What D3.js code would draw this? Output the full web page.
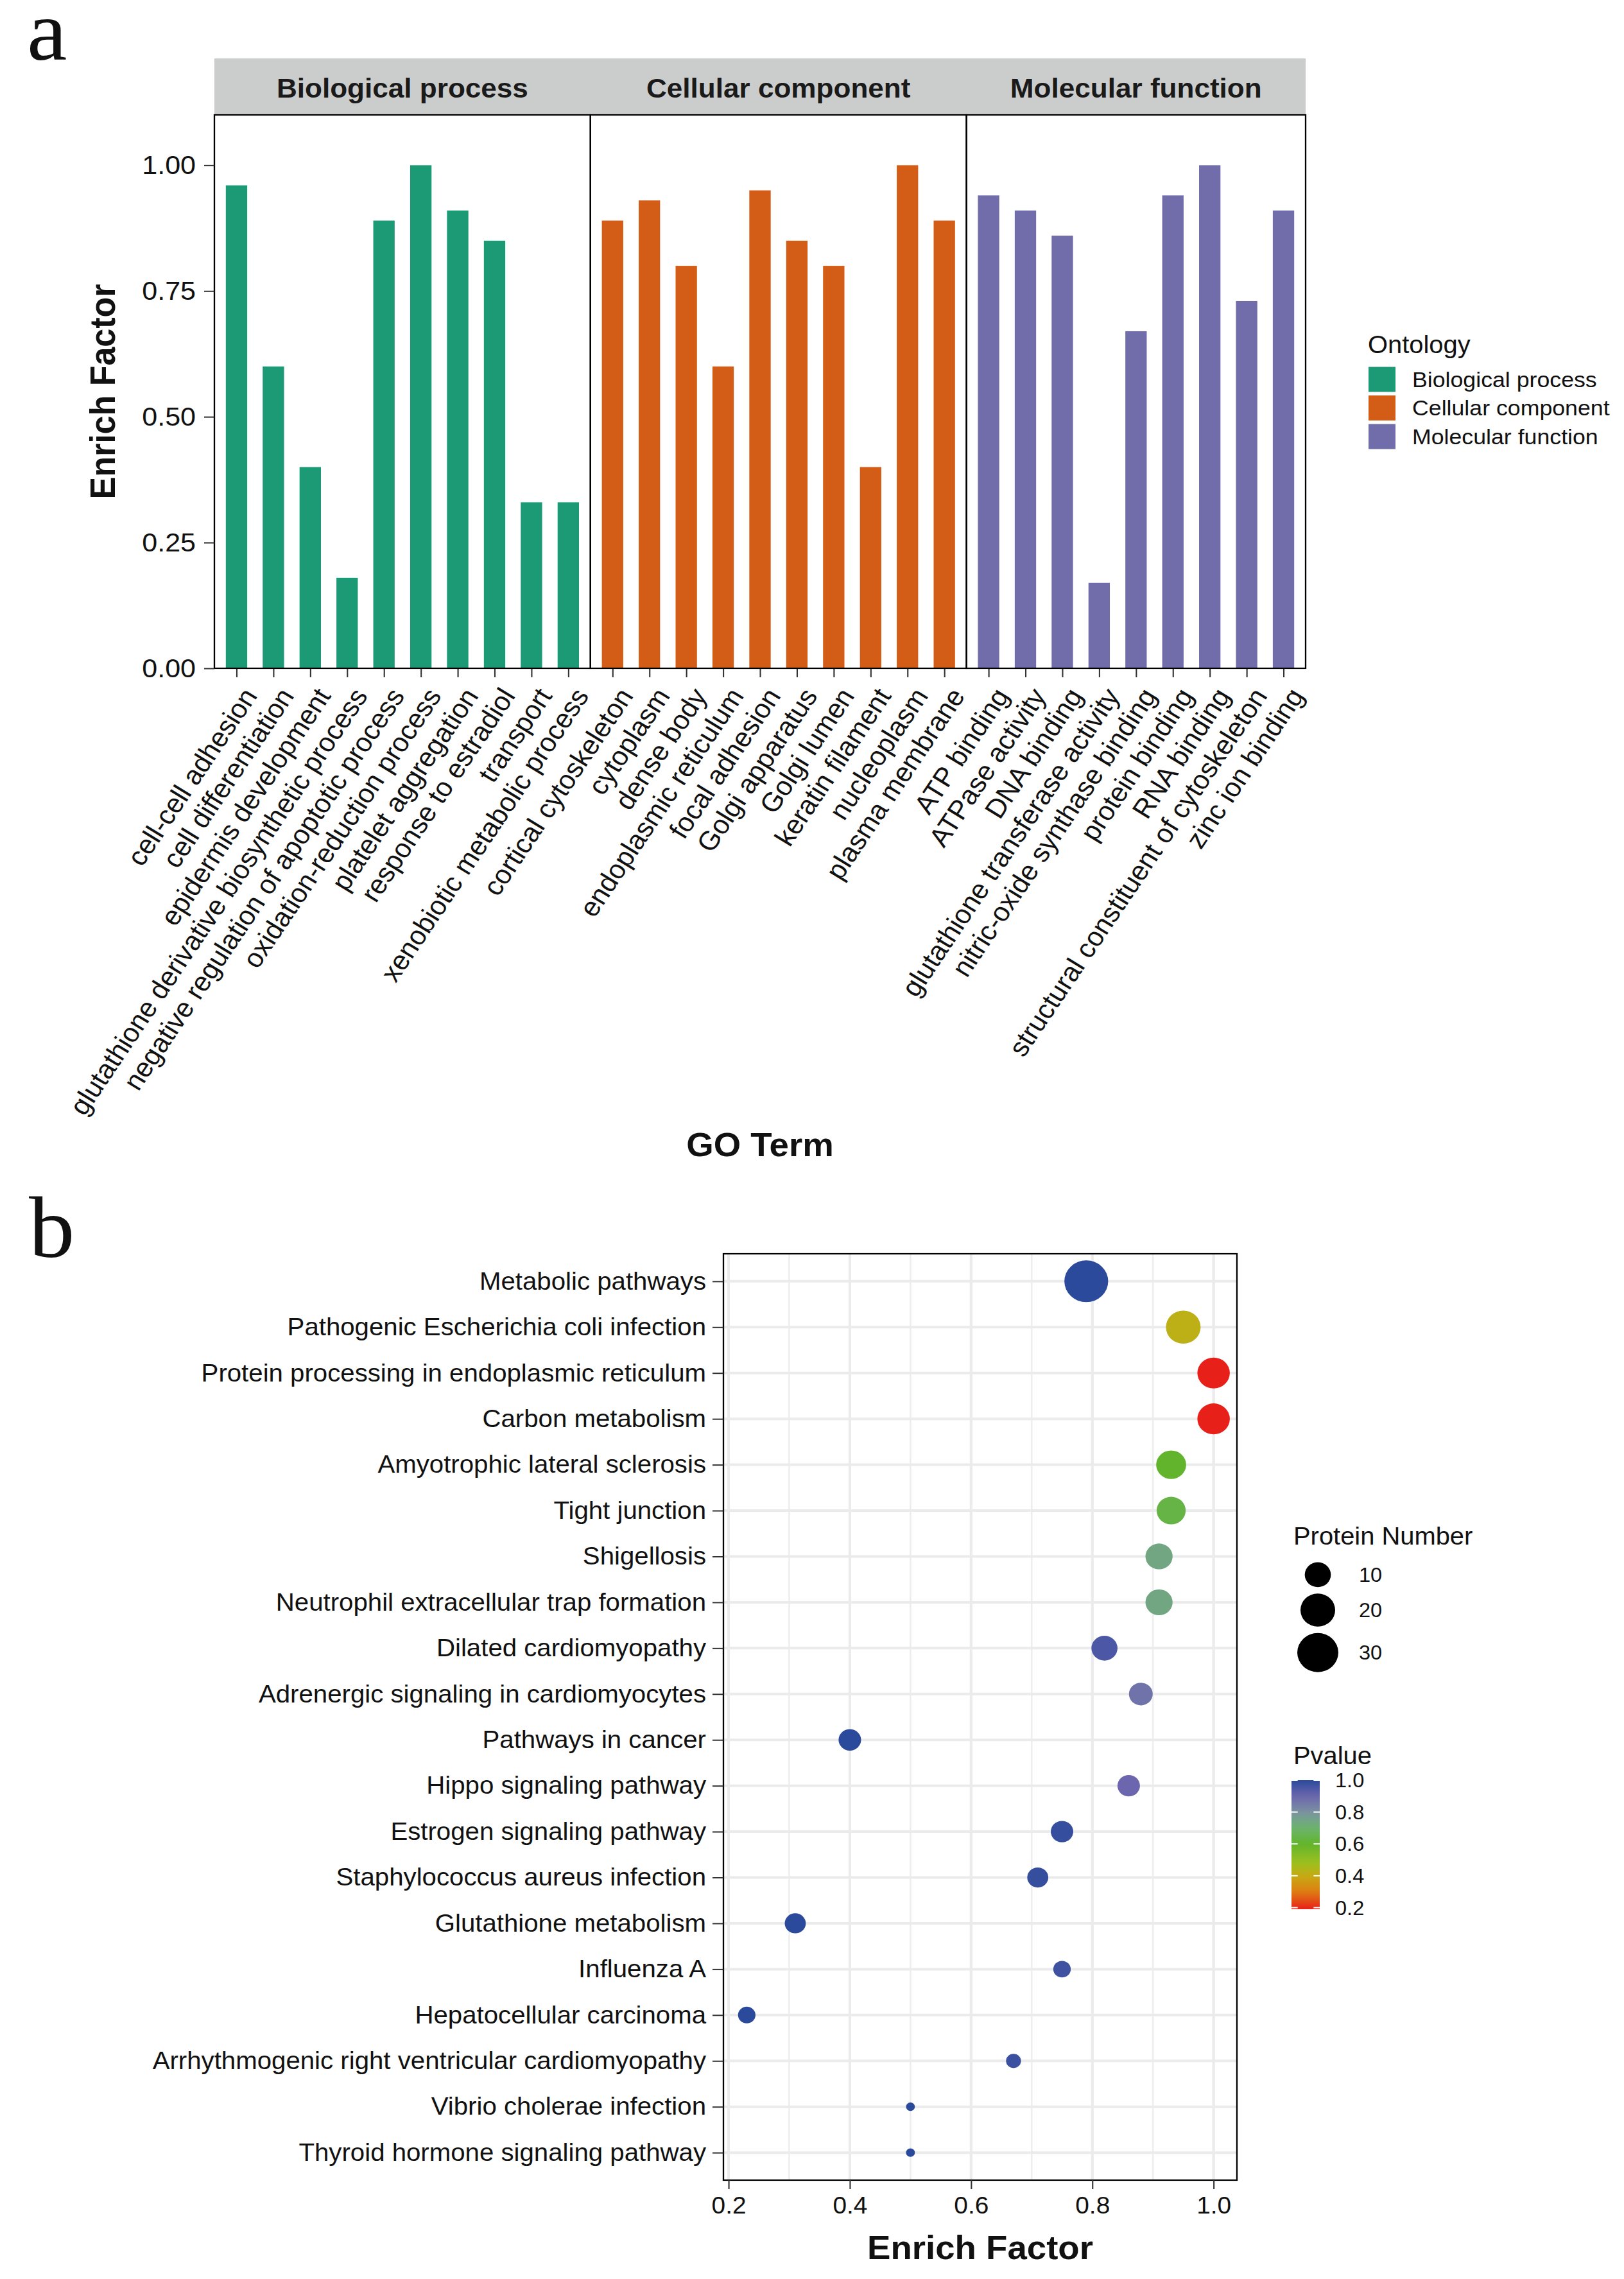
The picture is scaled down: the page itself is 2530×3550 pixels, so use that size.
<!DOCTYPE html>
<html>
<head>
<meta charset="utf-8">
<script src="https://cdn.jsdelivr.net/npm/d3@7"></script>
<style>
  body { margin: 0; background: #fff; }
</style>
</head>
<body>
<svg id="fig"></svg>
<script>
// ---- data: panel a (GO enrichment) ----
const ontologies = ['Biological process', 'Cellular component', 'Molecular function'];

const bpTerms = ['cell-cell adhesion', 'cell differentiation', 'epidermis development',
  'glutathione derivative biosynthetic process', 'negative regulation of apoptotic process',
  'oxidation-reduction process', 'platelet aggregation', 'response to estradiol',
  'transport', 'xenobiotic metabolic process'];
const bpFactor = [0.96, 0.60, 0.40, 0.18, 0.89, 1.00, 0.91, 0.85, 0.33, 0.33];

const ccTerms = ['cortical cytoskeleton', 'cytoplasm', 'dense body', 'endoplasmic reticulum',
  'focal adhesion', 'Golgi apparatus', 'Golgi lumen', 'keratin filament', 'nucleoplasm',
  'plasma membrane'];
const ccFactor = [0.89, 0.93, 0.80, 0.60, 0.95, 0.85, 0.80, 0.40, 1.00, 0.89];

const mfTerms = ['ATP binding', 'ATPase activity', 'DNA binding',
  'glutathione transferase activity', 'nitric-oxide synthase binding', 'protein binding',
  'RNA binding', 'structural constituent of cytoskeleton', 'zinc ion binding'];
const mfFactor = [0.94, 0.91, 0.86, 0.17, 0.67, 0.94, 1.00, 0.73, 0.91];

const yTicksA = [0, 0.25, 0.5, 0.75, 1.0];

// ---- data: panel b (KEGG bubble plot) ----
const keggPathways = ['Metabolic pathways', 'Pathogenic Escherichia coli infection',
  'Protein processing in endoplasmic reticulum', 'Carbon metabolism',
  'Amyotrophic lateral sclerosis', 'Tight junction', 'Shigellosis',
  'Neutrophil extracellular trap formation', 'Dilated cardiomyopathy',
  'Adrenergic signaling in cardiomyocytes', 'Pathways in cancer', 'Hippo signaling pathway',
  'Estrogen signaling pathway', 'Staphylococcus aureus infection', 'Glutathione metabolism',
  'Influenza A', 'Hepatocellular carcinoma', 'Arrhythmogenic right ventricular cardiomyopathy',
  'Vibrio cholerae infection', 'Thyroid hormone signaling pathway'];
const keggFactor = [0.79, 0.95, 1.00, 1.00, 0.93, 0.93, 0.91, 0.91, 0.82, 0.88,
  0.40, 0.86, 0.75, 0.71, 0.31, 0.75, 0.23, 0.67, 0.50, 0.50];
const keggCount = [35, 20, 17, 17, 14, 13, 11, 11, 10, 8, 7, 7, 7, 6, 6, 4, 4, 3, 2, 2];
const keggPvalue = [1.00, 0.42, 0.19, 0.19, 0.60, 0.64, 0.74, 0.74, 0.95, 0.87,
  1.00, 0.90, 0.985, 0.985, 1.00, 0.97, 1.00, 0.975, 1.00, 1.00];

const xTicksB = [0.2, 0.4, 0.6, 0.8, 1.0];
const sizeBreaks = [10, 20, 30];
const pBreaks = [0.2, 0.4, 0.6, 0.8, 1.0];

// ---- styles ----
const ontColors = ['#1C9A76', '#D35C17', '#716DAA'];
const pStops = [0.19, 0.30, 0.40, 0.48, 0.60, 0.70, 0.80, 0.90, 1.00];
const pColors = ['#E8201A', '#DE7E12', '#C6AA14', '#9CC01E', '#62B42C', '#6CB46E',
  '#7A92A0', '#6C66AE', '#2B4A9B'];
const SANS = '"Liberation Sans", Arial, Helvetica, sans-serif';
const SERIF = '"Liberation Serif", "Times New Roman", serif';

// the reference is slightly stretched sideways; draw in narrower units and stretch
const SX = 1.05;
const W = 2530, H = 3550;
const X = v => v / SX;   // measured pixel x -> drawing units

const svg = d3.select('#fig')
  .attr('width', W).attr('height', H)
  .attr('viewBox', [0, 0, W / SX, H])
  .attr('preserveAspectRatio', 'none')
  .attr('font-family', SANS);

function styleAxis(g, size) {
  g.select('.domain').remove();
  g.selectAll('.tick line').attr('stroke', '#333').attr('stroke-width', 2);
  g.selectAll('.tick text').attr('fill', '#111').attr('font-size', size)
    .attr('font-family', SANS);
}

// ================= panel a =================
const aTop = 179, aBot = 1041, stripTop = 91;
const aLeft = X(334), aRight = X(2034);
const gA = svg.append('g');

gA.append('text').attr('x', X(42)).attr('y', 93)
  .attr('font-family', SERIF).attr('font-size', 134).attr('fill', '#111').text('a');

const yA = d3.scaleLinear().domain([0, 1.1]).range([aBot, aTop]);

const facets = [
  { terms: bpTerms, values: bpFactor },
  { terms: ccTerms, values: ccFactor },
  { terms: mfTerms, values: mfFactor },
].map((f, i) => ({ ...f, name: ontologies[i], color: ontColors[i] }));

// free x space: width proportional to (n - 1 + 2 * 0.6)
const units = facets.map(f => f.terms.length - 1 + 1.2);
const unitW = (aRight - aLeft) / d3.sum(units);
let cur = aLeft;
facets.forEach((f, i) => {
  f.x0 = cur;
  f.x1 = cur + units[i] * unitW;
  cur = f.x1;
  f.scale = d3.scalePoint().domain(f.terms).range([f.x0, f.x1]).padding(0.6);
});

// strip
gA.append('rect').attr('x', aLeft).attr('y', stripTop)
  .attr('width', aRight - aLeft).attr('height', aTop - stripTop).attr('fill', '#CBCDCC');

const LABEL_ANG = Math.atan(Math.tan(56 * Math.PI / 180) * SX) * 180 / Math.PI;

facets.forEach(f => {
  const bw = f.scale.step() * 0.58;
  gA.append('g').selectAll('rect')
    .data(f.terms.map((t, i) => ({ t, v: f.values[i] })))
    .join('rect')
    .attr('x', d => f.scale(d.t) - bw / 2)
    .attr('width', bw)
    .attr('y', d => yA(d.v))
    .attr('height', d => aBot - yA(d.v))
    .attr('fill', f.color);

  gA.append('text')
    .attr('x', (f.x0 + f.x1) / 2).attr('y', 152)
    .attr('text-anchor', 'middle').attr('font-weight', 'bold')
    .attr('font-size', 42).attr('fill', '#1a1a1a')
    .text(f.name);

  const ax = gA.append('g').attr('transform', `translate(0,${aBot})`)
    .call(d3.axisBottom(f.scale).tickSize(14).tickSizeOuter(0));
  styleAxis(ax, 41.5);
  ax.selectAll('.tick text')
    .attr('x', null).attr('y', null).attr('dy', null)
    .attr('text-anchor', 'end')
    .attr('transform', `translate(${X(33)},43) rotate(${-LABEL_ANG})`);

  gA.append('rect')
    .attr('x', f.x0).attr('y', aTop)
    .attr('width', f.x1 - f.x0).attr('height', aBot - aTop)
    .attr('fill', 'none').attr('stroke', '#000').attr('stroke-width', 2.2);
});

const ayAxis = gA.append('g').attr('transform', `translate(${aLeft},0)`)
  .call(d3.axisLeft(yA).tickValues(yTicksA).tickFormat(d3.format('.2f'))
    .tickSize(X(16)).tickPadding(X(13)));
styleAxis(ayAxis, 41);

gA.append('text')
  .attr('transform', `translate(${X(179)},${(aTop + aBot) / 2}) rotate(-90)`)
  .attr('text-anchor', 'middle').attr('font-weight', 'bold').attr('font-size', 52)
  .attr('fill', '#111').text('Enrich Factor');

gA.append('text')
  .attr('x', (aLeft + aRight) / 2).attr('y', 1801)
  .attr('text-anchor', 'middle').attr('font-weight', 'bold').attr('font-size', 52)
  .attr('fill', '#111').text('GO Term');

// legend a
const legA = gA.append('g');
legA.append('text').attr('x', X(2131)).attr('y', 550)
  .attr('font-size', 38).attr('fill', '#111').text('Ontology');
legA.selectAll('rect').data(facets).join('rect')
  .attr('x', X(2132)).attr('y', (d, i) => 571.5 + i * 44.5)
  .attr('width', X(42)).attr('height', 39).attr('fill', d => d.color);
legA.selectAll('text.lab').data(facets).join('text').attr('class', 'lab')
  .attr('x', X(2200)).attr('y', (d, i) => 571.5 + i * 44.5 + 19.5 + 12)
  .attr('font-size', 34).attr('fill', '#111').text(d => d.name);

// ================= panel b =================
const bTop = 1953, bBot = 3396;
const bLeft = X(1127), bRight = X(1927);
const gB = svg.append('g');

gB.append('text').attr('x', X(45)).attr('y', 1958)
  .attr('font-family', SERIF).attr('font-size', 136).attr('fill', '#111').text('b');

const fx = d3.extent(keggFactor);
const pad = (fx[1] - fx[0]) * 0.05;
const xB = d3.scaleLinear().domain([fx[0] - pad, fx[1] + pad]).range([bLeft, bRight]);
const yB = d3.scalePoint().domain(keggPathways).range([bTop, bBot]).padding(0.6);

const cExt = d3.extent(keggCount);
const sizeT = d3.scaleLinear().domain(cExt).range([0, 1]);
const rB = d3.scaleLinear().domain([0, 1]).range([6.6, 32.5]);
const radius = v => rB(Math.sqrt(Math.max(0, sizeT(v))));

const colorP = d3.scaleLinear().domain(pStops).range(pColors).interpolate(d3.interpolateRgb);

// grid
const minorTicks = d3.range(0.1, 1.05, 0.2).map(v => +v.toFixed(2))
  .filter(v => v > xB.domain()[0] && v < xB.domain()[1]);
gB.append('g').selectAll('line').data(minorTicks).join('line')
  .attr('x1', d => xB(d)).attr('x2', d => xB(d)).attr('y1', bTop).attr('y2', bBot)
  .attr('stroke', '#EEEEEE').attr('stroke-width', 2.5);
gB.append('g').selectAll('line').data(xTicksB).join('line')
  .attr('x1', d => xB(d)).attr('x2', d => xB(d)).attr('y1', bTop).attr('y2', bBot)
  .attr('stroke', '#EBEBEB').attr('stroke-width', 4);
gB.append('g').selectAll('line').data(keggPathways).join('line')
  .attr('x1', bLeft).attr('x2', bRight).attr('y1', d => yB(d)).attr('y2', d => yB(d))
  .attr('stroke', '#EBEBEB').attr('stroke-width', 4);

// points
const pts = keggPathways.map((p, i) => ({
  p, f: keggFactor[i], n: keggCount[i], pv: keggPvalue[i],
}));
gB.append('g').selectAll('circle').data(pts).join('circle')
  .attr('cx', d => xB(d.f)).attr('cy', d => yB(d.p))
  .attr('r', d => radius(d.n))
  .attr('fill', d => colorP(d.pv));

gB.append('rect').attr('x', bLeft).attr('y', bTop)
  .attr('width', bRight - bLeft).attr('height', bBot - bTop)
  .attr('fill', 'none').attr('stroke', '#000').attr('stroke-width', 2.2);

const bxAxis = gB.append('g').attr('transform', `translate(0,${bBot})`)
  .call(d3.axisBottom(xB).tickValues(xTicksB).tickFormat(d3.format('.1f'))
    .tickSize(14).tickPadding(12));
styleAxis(bxAxis, 37);

const byAxis = gB.append('g').attr('transform', `translate(${bLeft},0)`)
  .call(d3.axisLeft(yB).tickSize(X(17)).tickPadding(X(10)));
styleAxis(byAxis, 38.3);

gB.append('text')
  .attr('x', (bLeft + bRight) / 2).attr('y', 3519)
  .attr('text-anchor', 'middle').attr('font-weight', 'bold').attr('font-size', 52)
  .attr('fill', '#111').text('Enrich Factor');

// legend: protein number
const legS = gB.append('g');
legS.append('text').attr('x', X(2015)).attr('y', 2406)
  .attr('font-size', 38).attr('fill', '#111').text('Protein Number');
let ky = 2428.6;
const sizeKeys = sizeBreaks.map(v => {
  const r = radius(v);
  const cy = ky + r + 5;
  ky += 2 * r + 10;
  return { v, r, cy };
});
legS.selectAll('circle').data(sizeKeys).join('circle')
  .attr('cx', X(2053)).attr('cy', d => d.cy).attr('r', d => d.r).attr('fill', '#000');
legS.selectAll('text.lab').data(sizeKeys).join('text').attr('class', 'lab')
  .attr('x', X(2117)).attr('y', d => d.cy + 11)
  .attr('font-size', 31).attr('fill', '#111').text(d => d.v);

// legend: p value colour bar
const legP = gB.append('g');
legP.append('text').attr('x', X(2015)).attr('y', 2748)
  .attr('font-size', 38).attr('fill', '#111').text('Pvalue');

const pExt = d3.extent(keggPvalue);
const yP = d3.scaleLinear().domain(pExt).range([2974, 2773]);
const grad = svg.append('defs').append('linearGradient').attr('id', 'pgrad')
  .attr('x1', 0).attr('y1', 1).attr('x2', 0).attr('y2', 0);
grad.selectAll('stop').data(d3.range(0, 1.0001, 0.05)).join('stop')
  .attr('offset', d => d)
  .attr('stop-color', d => colorP(pExt[0] + d * (pExt[1] - pExt[0])));

const cbX = X(2012), cbW = X(44);
legP.append('rect').attr('x', cbX).attr('y', yP(pExt[1]))
  .attr('width', cbW).attr('height', yP(pExt[0]) - yP(pExt[1]))
  .attr('fill', 'url(#pgrad)');
legP.selectAll('line.tl').data(pBreaks).join('line').attr('class', 'tl')
  .attr('x1', cbX).attr('x2', cbX + cbW * 0.22)
  .attr('y1', d => yP(d)).attr('y2', d => yP(d))
  .attr('stroke', '#fff').attr('stroke-width', 2);
legP.selectAll('line.tr').data(pBreaks).join('line').attr('class', 'tr')
  .attr('x1', cbX + cbW * 0.78).attr('x2', cbX + cbW)
  .attr('y1', d => yP(d)).attr('y2', d => yP(d))
  .attr('stroke', '#fff').attr('stroke-width', 2);
legP.selectAll('text.lab').data(pBreaks).join('text').attr('class', 'lab')
  .attr('x', X(2080)).attr('y', d => yP(d) + 11)
  .attr('font-size', 31).attr('fill', '#111').text(d => d3.format('.1f')(d));
</script>
</body>
</html>
